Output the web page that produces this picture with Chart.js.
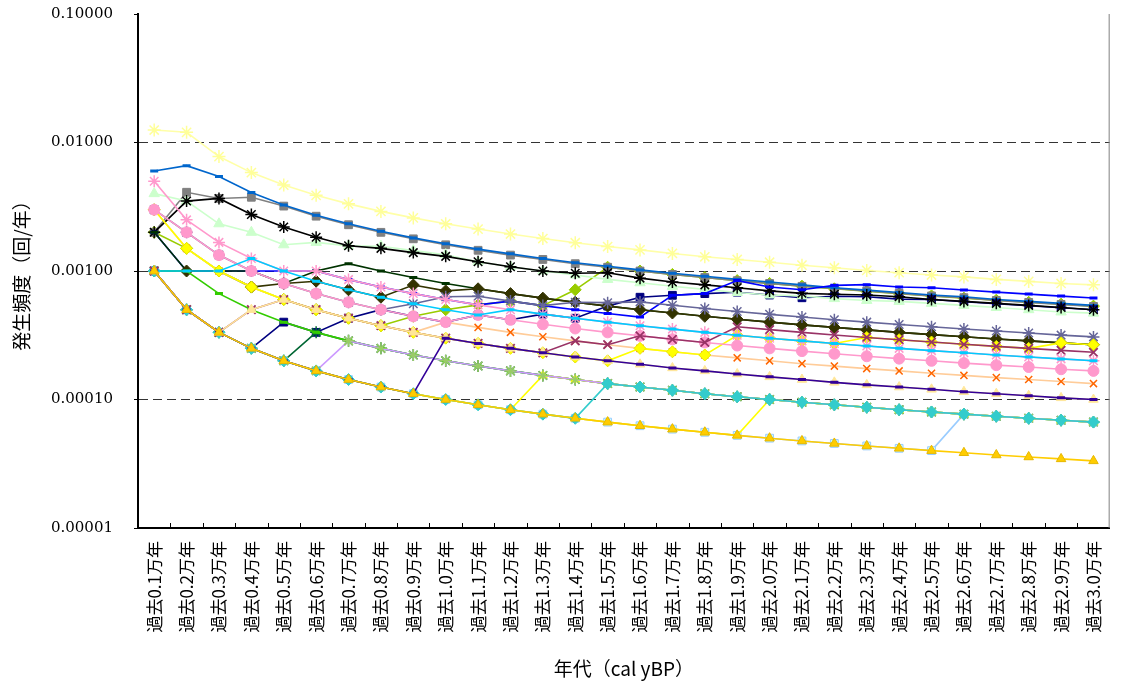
<!DOCTYPE html>
<html lang="ja">
<head>
<meta charset="UTF-8">
<title>発生頻度</title>
<script src="https://cdn.jsdelivr.net/npm/chart.js"></script>
<style>
  html, body { margin: 0; padding: 0; background: #ffffff; }
  #wrap { position: relative; width: 1127px; height: 686px; }
</style>
</head>
<body>
<div id="wrap"><canvas id="freqChart" width="1127" height="686"></canvas></div>
<script>
const categories = ['過去0.1万年', '過去0.2万年', '過去0.3万年', '過去0.4万年', '過去0.5万年', '過去0.6万年',
  '過去0.7万年', '過去0.8万年', '過去0.9万年', '過去1.0万年', '過去1.1万年', '過去1.2万年',
  '過去1.3万年', '過去1.4万年', '過去1.5万年', '過去1.6万年', '過去1.7万年', '過去1.8万年',
  '過去1.9万年', '過去2.0万年', '過去2.1万年', '過去2.2万年', '過去2.3万年', '過去2.4万年',
  '過去2.5万年', '過去2.6万年', '過去2.7万年', '過去2.8万年', '過去2.9万年', '過去3.0万年'];
const yTicks = [0.1, 0.01, 0.001, 0.0001, 0.00001];

// values (回/年)
const goldTri = [1.0e-3, 5.0e-4, 3.33e-4, 2.5e-4, 2.0e-4, 1.67e-4, 1.43e-4, 1.25e-4, 1.11e-4, 1.0e-4, 9.09e-5, 8.33e-5, 7.69e-5, 7.14e-5, 6.67e-5, 6.25e-5, 5.88e-5, 5.56e-5, 5.26e-5, 5.0e-5, 4.76e-5, 4.55e-5, 4.35e-5, 4.17e-5, 4.0e-5, 3.85e-5, 3.7e-5, 3.57e-5, 3.45e-5, 3.33e-5];
const indigoDash = [1.0e-3, 5.0e-4, 3.33e-4, 2.5e-4, 2.0e-4, 1.67e-4, 1.43e-4, 1.25e-4, 1.11e-4, 3.0e-4, 2.73e-4, 2.5e-4, 2.31e-4, 2.14e-4, 2.0e-4, 1.88e-4, 1.76e-4, 1.67e-4, 1.58e-4, 1.5e-4, 1.43e-4, 1.36e-4, 1.3e-4, 1.25e-4, 1.2e-4, 1.15e-4, 1.11e-4, 1.07e-4, 1.03e-4, 1.0e-4];
const paleTri = [1.0e-3, 5.0e-4, 3.33e-4, 5.0e-4, 6.0e-4, 5.0e-4, 4.29e-4, 3.75e-4, 3.33e-4, 3.0e-4, 2.73e-4, 2.5e-4, 2.31e-4, 2.14e-4, 2.0e-4, 1.88e-4, 1.76e-4, 1.67e-4, 1.58e-4, 1.5e-4, 1.43e-4, 1.36e-4, 1.3e-4, 1.25e-4, 1.2e-4, 1.15e-4, 1.11e-4, 1.07e-4, 1.03e-4, 1.0e-4];
const cyanDash = [1.0e-3, 1.0e-3, 1.0e-3, 1.25e-3, 1.0e-3, 8.33e-4, 7.14e-4, 6.25e-4, 5.56e-4, 5.0e-4, 4.55e-4, 5.0e-4, 4.62e-4, 4.29e-4, 4.0e-4, 3.75e-4, 3.53e-4, 3.33e-4, 3.16e-4, 3.0e-4, 2.86e-4, 2.73e-4, 2.61e-4, 2.5e-4, 2.4e-4, 2.31e-4, 2.22e-4, 2.14e-4, 2.07e-4, 2.0e-4];
const pinkStar = [5.0e-3, 2.5e-3, 1.67e-3, 1.25e-3, 1.0e-3, 1.0e-3, 8.57e-4, 7.5e-4, 6.67e-4, 6.0e-4, 5.45e-4, 5.0e-4, 4.62e-4, 4.29e-4, 4.0e-4, 3.75e-4, 3.53e-4, 3.33e-4, 3.16e-4, 3.0e-4, 2.86e-4, 2.73e-4, 2.61e-4, 2.5e-4, 2.4e-4, 2.31e-4, 2.22e-4, 2.14e-4, 2.07e-4, 2.0e-4];
const maroonX = [1.0e-3, 5.0e-4, 3.33e-4, 5.0e-4, 6.0e-4, 5.0e-4, 4.29e-4, 3.75e-4, 3.33e-4, 3.0e-4, 2.73e-4, 2.5e-4, 2.31e-4, 2.86e-4, 2.67e-4, 3.13e-4, 2.94e-4, 2.78e-4, 3.68e-4, 3.5e-4, 3.33e-4, 3.18e-4, 3.04e-4, 2.92e-4, 2.8e-4, 2.69e-4, 2.59e-4, 2.5e-4, 2.41e-4, 2.33e-4];
const yellowDiamond = [3.0e-3, 1.5e-3, 1.0e-3, 7.5e-4, 6.0e-4, 5.0e-4, 4.29e-4, 3.75e-4, 3.33e-4, 3.0e-4, 2.73e-4, 2.5e-4, 2.31e-4, 2.14e-4, 2.0e-4, 2.5e-4, 2.35e-4, 2.22e-4, 3.16e-4, 3.0e-4, 2.86e-4, 2.73e-4, 3.04e-4, 2.92e-4, 2.8e-4, 2.69e-4, 2.59e-4, 2.5e-4, 2.76e-4, 2.67e-4];
const orangeX = [3.0e-3, 1.5e-3, 1.0e-3, 7.5e-4, 6.0e-4, 5.0e-4, 4.29e-4, 3.75e-4, 3.33e-4, 4.0e-4, 3.64e-4, 3.33e-4, 3.08e-4, 2.86e-4, 2.67e-4, 2.5e-4, 2.35e-4, 2.22e-4, 2.11e-4, 2.0e-4, 1.9e-4, 1.82e-4, 1.74e-4, 1.67e-4, 1.6e-4, 1.54e-4, 1.48e-4, 1.43e-4, 1.38e-4, 1.33e-4];
const pinkCircle = [3.0e-3, 2.0e-3, 1.33e-3, 1.0e-3, 8.0e-4, 6.67e-4, 5.71e-4, 5.0e-4, 4.44e-4, 4.0e-4, 4.55e-4, 4.17e-4, 3.85e-4, 3.57e-4, 3.33e-4, 3.13e-4, 2.94e-4, 2.78e-4, 2.63e-4, 2.5e-4, 2.38e-4, 2.27e-4, 2.17e-4, 2.08e-4, 2.0e-4, 1.92e-4, 1.85e-4, 1.79e-4, 1.72e-4, 1.67e-4];
const tealDiamond = [1.0e-3, 5.0e-4, 3.33e-4, 2.5e-4, 2.0e-4, 1.67e-4, 1.43e-4, 1.25e-4, 1.11e-4, 1.0e-4, 9.09e-5, 8.33e-5, 7.69e-5, 7.14e-5, 1.33e-4, 1.25e-4, 1.18e-4, 1.11e-4, 1.05e-4, 1.0e-4, 9.52e-5, 9.09e-5, 8.7e-5, 8.33e-5, 8.0e-5, 7.69e-5, 7.41e-5, 7.14e-5, 6.9e-5, 6.67e-5];
const lavenderX = [1.0e-3, 5.0e-4, 3.33e-4, 2.5e-4, 2.0e-4, 1.67e-4, 2.86e-4, 2.5e-4, 2.22e-4, 2.0e-4, 1.82e-4, 1.67e-4, 1.54e-4, 1.43e-4, 1.33e-4, 1.25e-4, 1.18e-4, 1.11e-4, 1.05e-4, 1.0e-4, 9.52e-5, 9.09e-5, 8.7e-5, 8.33e-5, 8.0e-5, 7.69e-5, 7.41e-5, 7.14e-5, 6.9e-5, 6.67e-5];
const yellowA = [1.0e-3, 5.0e-4, 3.33e-4, 2.5e-4, 2.0e-4, 1.67e-4, 1.43e-4, 1.25e-4, 1.11e-4, 1.0e-4, 9.09e-5, 8.33e-5, 1.54e-4, 1.43e-4, 1.33e-4, 1.25e-4, 1.18e-4, 1.11e-4, 1.05e-4, 1.0e-4, 9.52e-5, 9.09e-5, 8.7e-5, 8.33e-5, 8.0e-5, 7.69e-5, 7.41e-5, 7.14e-5, 6.9e-5, 6.67e-5];
const yellowB = [1.0e-3, 5.0e-4, 3.33e-4, 2.5e-4, 2.0e-4, 1.67e-4, 1.43e-4, 1.25e-4, 1.11e-4, 1.0e-4, 9.09e-5, 8.33e-5, 7.69e-5, 7.14e-5, 6.67e-5, 6.25e-5, 5.88e-5, 5.56e-5, 5.26e-5, 1.0e-4, 9.52e-5, 9.09e-5, 8.7e-5, 8.33e-5, 8.0e-5, 7.69e-5, 7.41e-5, 7.14e-5, 6.9e-5, 6.67e-5];
const lightBlueSq = [1.0e-3, 5.0e-4, 3.33e-4, 2.5e-4, 2.0e-4, 1.67e-4, 1.43e-4, 1.25e-4, 1.11e-4, 1.0e-4, 9.09e-5, 8.33e-5, 7.69e-5, 7.14e-5, 6.67e-5, 6.25e-5, 5.88e-5, 5.56e-5, 5.26e-5, 5.0e-5, 4.76e-5, 4.55e-5, 4.35e-5, 4.17e-5, 4.0e-5, 7.69e-5, 7.41e-5, 7.14e-5, 6.9e-5, 6.67e-5];
const greenLine = [1.0e-3, 1.0e-3, 6.67e-4, 5.0e-4, 4.0e-4, 3.33e-4, 2.86e-4, 2.5e-4, 2.22e-4, 2.0e-4, 1.82e-4, 1.67e-4, 1.54e-4, 1.43e-4, 1.33e-4, 1.25e-4, 1.18e-4, 1.11e-4, 1.05e-4, 1.0e-4, 9.52e-5, 9.09e-5, 8.7e-5, 8.33e-5, 8.0e-5, 7.69e-5, 7.41e-5, 7.14e-5, 6.9e-5, 6.67e-5];
const darkGreenStar = [1.0e-3, 5.0e-4, 3.33e-4, 2.5e-4, 2.0e-4, 3.33e-4, 2.86e-4, 2.5e-4, 2.22e-4, 2.0e-4, 1.82e-4, 1.67e-4, 1.54e-4, 1.43e-4, 1.33e-4, 1.25e-4, 1.18e-4, 1.11e-4, 1.05e-4, 1.0e-4, 9.52e-5, 9.09e-5, 8.7e-5, 8.33e-5, 8.0e-5, 7.69e-5, 7.41e-5, 7.14e-5, 6.9e-5, 6.67e-5];
const slateStar = [3.0e-3, 2.0e-3, 1.33e-3, 1.0e-3, 8.0e-4, 6.67e-4, 5.71e-4, 5.0e-4, 5.56e-4, 6.3e-4, 6.36e-4, 5.83e-4, 5.38e-4, 5.71e-4, 5.67e-4, 5.75e-4, 5.41e-4, 5.11e-4, 4.84e-4, 4.6e-4, 4.38e-4, 4.18e-4, 4.0e-4, 3.83e-4, 3.68e-4, 3.54e-4, 3.41e-4, 3.29e-4, 3.17e-4, 3.07e-4];
const oliveDiamond = [1.0e-3, 1.0e-3, 1.0e-3, 7.5e-4, 8.0e-4, 8.33e-4, 7.14e-4, 6.25e-4, 7.78e-4, 7.0e-4, 7.27e-4, 6.67e-4, 6.15e-4, 5.71e-4, 5.33e-4, 5.0e-4, 4.71e-4, 4.44e-4, 4.21e-4, 4.0e-4, 3.81e-4, 3.64e-4, 3.48e-4, 3.33e-4, 3.2e-4, 3.08e-4, 2.96e-4, 2.86e-4, 2.76e-4, 2.67e-4];
const darkGreenDash = [2.0e-3, 1.0e-3, 1.0e-3, 1.0e-3, 8.0e-4, 1.0e-3, 1.14e-3, 1.0e-3, 8.89e-4, 8.0e-4, 7.27e-4, 6.67e-4, 6.15e-4, 5.71e-4, 5.33e-4, 5.0e-4, 4.71e-4, 4.44e-4, 4.21e-4, 4.0e-4, 3.81e-4, 3.64e-4, 3.48e-4, 3.33e-4, 3.2e-4, 3.08e-4, 2.96e-4, 2.86e-4, 2.76e-4, 2.67e-4];
const limeDiamond = [2.0e-3, 1.5e-3, 1.0e-3, 7.5e-4, 6.0e-4, 5.0e-4, 4.29e-4, 3.75e-4, 4.44e-4, 5.0e-4, 5.45e-4, 5.83e-4, 5.38e-4, 7.14e-4, 1.07e-3, 1.0e-3, 9.41e-4, 8.89e-4, 8.42e-4, 8.0e-4, 7.62e-4, 7.27e-4, 6.96e-4, 6.67e-4, 6.4e-4, 6.15e-4, 5.93e-4, 5.71e-4, 5.52e-4, 5.33e-4];
const blueDash = [2.0e-3, 1.0e-3, 1.0e-3, 1.0e-3, 1.0e-3, 1.0e-3, 8.57e-4, 7.5e-4, 6.67e-4, 6.0e-4, 5.45e-4, 5.83e-4, 5.38e-4, 5.0e-4, 4.67e-4, 4.38e-4, 6.47e-4, 6.67e-4, 8.42e-4, 7.5e-4, 7.14e-4, 7.73e-4, 7.83e-4, 7.5e-4, 7.4e-4, 7.12e-4, 6.85e-4, 6.61e-4, 6.38e-4, 6.17e-4];
const blackStar = [2.0e-3, 3.5e-3, 3.67e-3, 2.75e-3, 2.2e-3, 1.83e-3, 1.57e-3, 1.5e-3, 1.39e-3, 1.3e-3, 1.18e-3, 1.08e-3, 1.0e-3, 9.6e-4, 9.7e-4, 8.8e-4, 8.2e-4, 7.8e-4, 7.4e-4, 7.0e-4, 6.7e-4, 6.6e-4, 6.5e-4, 6.3e-4, 6.0e-4, 5.8e-4, 5.6e-4, 5.4e-4, 5.2e-4, 5.0e-4];
const mintTri = [4.0e-3, 3.5e-3, 2.33e-3, 2.0e-3, 1.6e-3, 1.67e-3, 1.57e-3, 1.56e-3, 1.44e-3, 1.34e-3, 1.18e-3, 1.08e-3, 1.0e-3, 9.3e-4, 8.6e-4, 8.1e-4, 7.6e-4, 7.2e-4, 6.8e-4, 6.5e-4, 6.4e-4, 6.1e-4, 5.9e-4, 5.8e-4, 5.6e-4, 5.4e-4, 5.2e-4, 5.0e-4, 4.8e-4, 4.7e-4];
const navySq = [1.0e-3, 5.0e-4, 3.33e-4, 2.5e-4, 4.0e-4, 3.33e-4, 4.29e-4, 5.0e-4, 4.44e-4, 4.0e-4, 4.55e-4, 4.17e-4, 4.62e-4, 4.29e-4, 5.33e-4, 6.25e-4, 6.47e-4, 6.67e-4, 6.84e-4, 6.5e-4, 6.19e-4, 6.36e-4, 6.3e-4, 6.04e-4, 6.0e-4, 5.77e-4, 5.56e-4, 5.36e-4, 5.17e-4, 5.0e-4];
const oceanDash = [6.0e-3, 6.6e-3, 5.43e-3, 4.08e-3, 3.26e-3, 2.72e-3, 2.33e-3, 2.04e-3, 1.81e-3, 1.63e-3, 1.48e-3, 1.36e-3, 1.25e-3, 1.16e-3, 1.09e-3, 1.02e-3, 9.6e-4, 9.1e-4, 8.6e-4, 8.2e-4, 7.8e-4, 7.4e-4, 7.1e-4, 6.8e-4, 6.5e-4, 6.3e-4, 6.0e-4, 5.8e-4, 5.6e-4, 5.4e-4];
const graySq = [2.0e-3, 4.1e-3, 3.67e-3, 3.75e-3, 3.2e-3, 2.67e-3, 2.29e-3, 2.0e-3, 1.78e-3, 1.6e-3, 1.45e-3, 1.33e-3, 1.23e-3, 1.14e-3, 1.07e-3, 1.0e-3, 9.4e-4, 8.9e-4, 8.4e-4, 8.0e-4, 7.6e-4, 7.3e-4, 7.0e-4, 6.7e-4, 6.4e-4, 6.2e-4, 5.9e-4, 5.7e-4, 5.5e-4, 5.3e-4];
const paleStar = [1.25e-2, 1.2e-2, 7.77e-3, 5.83e-3, 4.66e-3, 3.88e-3, 3.33e-3, 2.91e-3, 2.59e-3, 2.33e-3, 2.12e-3, 1.94e-3, 1.79e-3, 1.66e-3, 1.55e-3, 1.46e-3, 1.37e-3, 1.29e-3, 1.23e-3, 1.17e-3, 1.11e-3, 1.06e-3, 1.01e-3, 9.7e-4, 9.3e-4, 9.0e-4, 8.6e-4, 8.3e-4, 8.0e-4, 7.8e-4];

function series(data, line, marker, fill, style, radius, pw) {
    return {
        data: data,
        borderColor: line,
        backgroundColor: line,
        borderWidth: 1.6,
        pointStyle: style,
        pointRadius: radius,
        pointBorderColor: marker,
        pointBackgroundColor: fill,
        pointBorderWidth: pw,
        tension: 0
    };
}

// first in the list is drawn on top
const datasets = [
    series(goldTri, '#FFCC00', '#E6B800', '#FFCC00', 'triangle', 5.5, 1),
    series(indigoDash, '#330099', '#330099', '#330099', 'line', 4, 3),
    series(paleTri, '#FFE699', '#FFE699', '#FFE699', 'triangle', 5.5, 1),
    series(cyanDash, '#00CCFF', '#00CCFF', '#00CCFF', 'line', 4, 3),
    series(pinkStar, '#FF99CC', '#FF99CC', '#FF99CC', 'star', 6, 1.5),
    series(maroonX, '#993366', '#993366', '#993366', 'crossRot', 6, 1.8),
    series(pinkCircle, '#FF99CC', '#FF99CC', '#FF99CC', 'circle', 5.5, 1),
    series(yellowDiamond, '#FFFF00', '#E6E600', '#FFFF00', 'rectRot', 6, 1),
    series(orangeX, '#FFCC99', '#FF6600', '#FF6600', 'crossRot', 5, 1.5),
    series(tealDiamond, '#33CCCC', '#33CCCC', '#33CCCC', 'rectRot', 6, 1),
    series(lavenderX, '#CC99FF', '#99CC66', '#99CC66', 'star', 6, 1.5),
    series(yellowA, '#FFFF00', '#FFFF00', '#FFFF00', 'triangle', 5, 1),
    series(yellowB, '#FFFF00', '#FFFF00', '#FFFF00', 'triangle', 5, 1),
    series(lightBlueSq, '#99CCFF', '#99CCFF', '#CCFFFF', 'rect', 5.5, 1),
    series(greenLine, '#33CC00', '#33CC00', '#33CC00', 'line', 4, 3),
    series(darkGreenStar, '#006633', '#006633', '#006633', 'star', 6, 1.5),
    series(slateStar, '#666699', '#666699', '#666699', 'star', 6, 1.5),
    series(oliveDiamond, '#333300', '#333300', '#333300', 'rectRot', 6, 1),
    series(darkGreenDash, '#003300', '#003300', '#003300', 'line', 4, 3),
    series(blueDash, '#0000FF', '#0000FF', '#0000FF', 'line', 4, 3),
    series(blackStar, '#000000', '#000000', '#000000', 'star', 6, 1.5),
    series(mintTri, '#CCFFCC', '#CCFFCC', '#CCFFCC', 'triangle', 6, 1),
    series(navySq, '#000080', '#000080', '#000080', 'rect', 5.5, 1),
    series(oceanDash, '#0066CC', '#0066CC', '#0066CC', 'line', 4, 3),
    series(graySq, '#808080', '#808080', '#808080', 'rect', 5.5, 1),
    series(limeDiamond, '#99CC00', '#99CC00', '#99CC00', 'rectRot', 6, 1),
    series(paleStar, '#FFFFA8', '#FFFF99', '#FFFF99', 'star', 6.5, 1.5)
];

// short inside tick marks between categories and the right frame line
const framePlugin = {
    id: 'framePlugin',
    beforeDatasetsDraw(chart) {
        const ctx = chart.ctx;
        const area = chart.chartArea;
        const xs = chart.scales.x;
        ctx.save();
        ctx.strokeStyle = '#000000';
        ctx.lineWidth = 1;
        for (let i = 1; i < categories.length; i++) {
            const x = Math.round((xs.getPixelForValue(i - 1) + xs.getPixelForValue(i)) / 2) + 0.5;
            ctx.beginPath();
            ctx.moveTo(x, area.bottom);
            ctx.lineTo(x, area.bottom - 5);
            ctx.stroke();
        }
        ctx.strokeStyle = '#808080';
        ctx.beginPath();
        ctx.moveTo(area.right - 0.5, area.top);
        ctx.lineTo(area.right - 0.5, area.bottom);
        ctx.stroke();
        ctx.restore();
    }
};

new Chart(document.getElementById('freqChart'), {
    type: 'line',
    data: { labels: categories, datasets: datasets },
    plugins: [framePlugin],
    options: {
        responsive: false,
        animation: false,
        layout: { padding: { top: 14, right: 1, left: 0, bottom: 0 } },
        plugins: { legend: { display: false }, tooltip: { enabled: false } },
        scales: {
            x: {
                offset: true,
                grid: { display: false, drawTicks: false },
                border: { display: true, color: '#000000', width: 2 },
                ticks: {
                    minRotation: 90,
                    maxRotation: 90,
                    autoSkip: false,
                    padding: 13,
                    color: '#000000',
                    font: { family: '"Noto Sans CJK JP"', size: 17 }
                },
                title: {
                    display: true,
                    text: '年代（cal yBP）',
                    color: '#000000',
                    font: { family: '"Noto Sans CJK JP"', size: 19 },
                    padding: { top: 4, bottom: 6 }
                },
                afterFit: function(s) { s.height = 158; }
            },
            y: {
                type: 'logarithmic',
                min: 0.00001,
                max: 0.1,
                afterBuildTicks: function(s) { s.ticks = yTicks.map(v => ({ value: v })); },
                grid: {
                    color: function(c) {
                        const v = c.tick && c.tick.value;
                        return (v === 0.1 || v === 0.00001) ? 'rgba(0,0,0,0)' : '#333333';
                    },
                    lineWidth: 1,
                    tickColor: '#000000',
                    tickLength: 4,
                    tickBorderDash: []
                },
                border: { display: true, color: '#000000', width: 2, dash: [9, 5] },
                ticks: {
                    padding: 21,
                    color: '#000000',
                    font: { family: '"DejaVu Serif"', size: 15 },
                    callback: function(v) { return Number(v).toFixed(5); }
                },
                title: {
                    display: true,
                    text: '発生頻度（回/年）',
                    color: '#000000',
                    font: { family: '"Noto Sans CJK JP"', size: 19 },
                    padding: { top: 10, bottom: 0 }
                },
                afterFit: function(s) {
                    s.width = 138;
                    s.paddingTop = 0;
                    s.paddingBottom = 0;
                }
            }
        }
    }
});
</script>
</body>
</html>
